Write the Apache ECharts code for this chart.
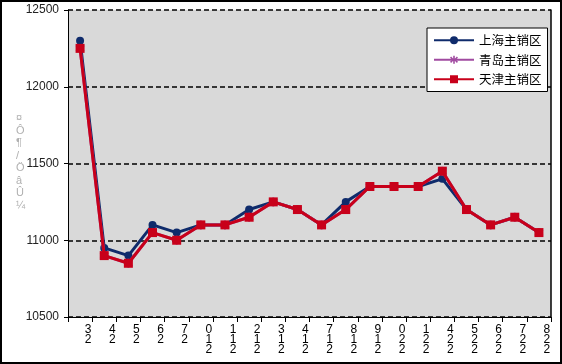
<!DOCTYPE html>
<html>
<head>
<meta charset="utf-8">
<script src="https://cdn.jsdelivr.net/npm/echarts@6/dist/echarts.min.js"></script>
<style>html,body{margin:0;padding:0;background:#fff;}#c{width:562px;height:364px;}</style>
</head>
<body>
<div id="c"></div>
<script>
const categories = ["3\n2","4\n2","5\n2","6\n2","7\n2","0\n1\n2","1\n1\n2","2\n1\n2","3\n1\n2","4\n1\n2","7\n1\n2","8\n1\n2","9\n1\n2","0\n2\n2","1\n2\n2","4\n2\n2","5\n2\n2","6\n2\n2","7\n2\n2","8\n2\n2"];
const seriesNames = ["上海主销区","青岛主销区","天津主销区"];
const shanghai = [12300,10950,10900,11100,11050,11100,11100,11200,11250,11200,11100,11250,11350,11350,11350,11400,11200,11100,11150,11050];
const qingdao  = [12250,10900,10850,11050,11000,11100,11100,11150,11250,11200,11100,11200,11350,11350,11350,11450,11200,11100,11150,11050];
const tianjin  = [12250,10900,10850,11050,11000,11100,11100,11150,11250,11200,11100,11200,11350,11350,11350,11450,11200,11100,11150,11050];
const yTicks = [10500,11000,11500,12000,12500];
const yAxisName = ["¤","Ô","¶","/","Ö","â","Û","¼"];

const chart = echarts.init(document.getElementById('c'), null, {renderer:'canvas'});
const font = 'Liberation Sans, Arial, sans-serif';
const starPath = 'path://M4,0 L6,0 L6,3.6 L8.6,1 L10,2.4 L7.4,5 L10,7.6 L8.6,9 L6,6.4 L6,10 L4,10 L4,6.4 L1.4,9 L0,7.6 L2.6,5 L0,2.4 L1.4,1 L4,3.6 Z';
chart.setOption({
  backgroundColor:'#ffffff',
  animation:false,
  grid:{left:68,right:11,top:10,bottom:47,show:true,backgroundColor:'#d9d9d9',borderWidth:0},
  legend:{
    orient:'vertical', left:427, top:28,
    backgroundColor:'#ffffff', borderColor:'#000', borderWidth:1,
    padding:[6,6,6,6], itemGap:7, itemWidth:40, itemHeight:10,
    textStyle:{fontSize:12.5,color:'#000',fontFamily:'Noto Sans CJK SC'},
    data:seriesNames
  },
  xAxis:{
    type:'category', data:categories, boundaryGap:true,
    axisLine:{lineStyle:{color:'#000',width:1}},
    axisTick:{show:true,length:5,lineStyle:{color:'#000'},alignWithLabel:false},
    axisLabel:{interval:0,color:'#000',fontSize:12,lineHeight:10,margin:8,fontFamily:font,padding:[0,0,0,16]}
  },
  yAxis:[{
    type:'value', min:yTicks[0], max:yTicks[yTicks.length-1], interval:500,
    axisLine:{show:true,lineStyle:{color:'#000',width:1}},
    axisTick:{show:true,length:4,inside:false,lineStyle:{color:'#000'}},
    axisLabel:{color:'#222',fontSize:12,margin:9,fontFamily:font,formatter:function(v){return String(v);}},
    splitLine:{show:true,lineStyle:{color:'#000',type:[5,3],width:1.5}}
  },{
    type:'value', position:'right', min:yTicks[0], max:yTicks[yTicks.length-1], interval:500,
    axisLine:{show:true,lineStyle:{color:'#000',width:1.5}},
    axisTick:{show:false}, axisLabel:{show:false}, splitLine:{show:false}
  }],
  series:[
    {name:seriesNames[0],type:'line',data:shanghai,symbol:'circle',symbolSize:8,
     lineStyle:{color:'#0f2b6b',width:3},itemStyle:{color:'#0f2b6b'},z:2},
    {name:seriesNames[1],type:'line',data:qingdao,symbol:starPath,symbolSize:9,
     lineStyle:{color:'#a04aa0',width:3},itemStyle:{color:'#a04aa0'},z:3},
    {name:seriesNames[2],type:'line',data:tianjin,symbol:'rect',symbolSize:9,
     lineStyle:{color:'#c8001a',width:3},itemStyle:{color:'#c8001a'},z:4}
  ],
  graphic:[
    {type:'rect',shape:{x:1,y:1,width:560,height:362},style:{fill:null,stroke:'#000',lineWidth:2},silent:true,z:100},
    {type:'text',left:16,top:112,style:{text:yAxisName.join('\n'),fill:'#b0b0b0',fontSize:11,lineHeight:12.5,fontFamily:font,align:'center'}}
  ]
});
</script>
</body>
</html>
